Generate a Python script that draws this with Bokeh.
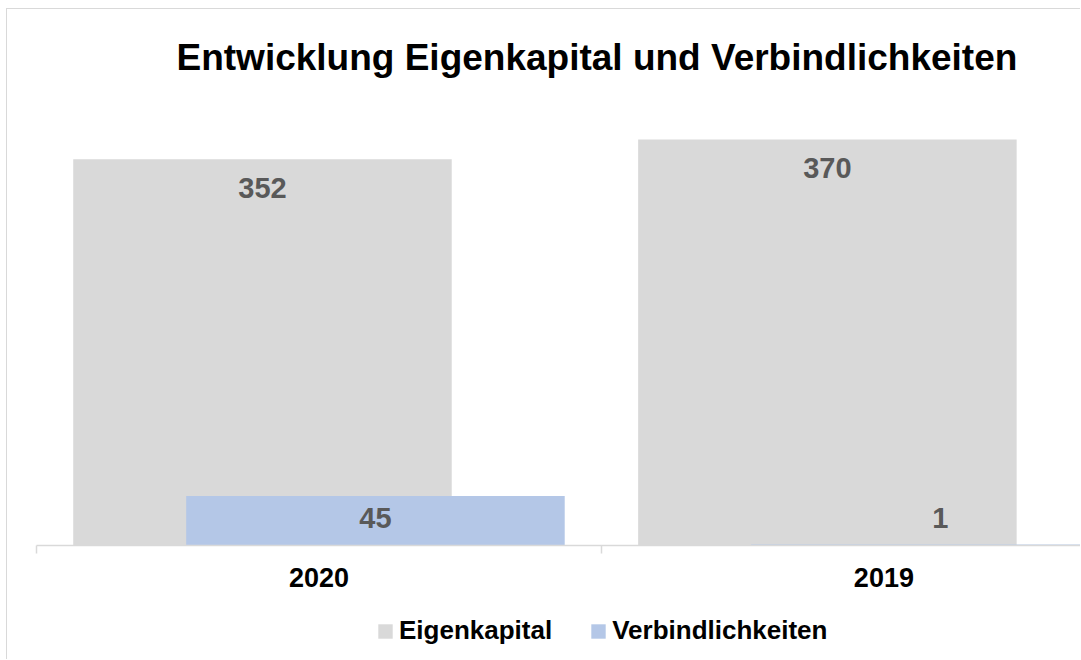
from bokeh.plotting import figure
from bokeh.models import Range1d, FixedTicker, Legend, LegendItem, ColumnDataSource
from bokeh.layouts import column
from bokeh.transform import dodge
from bokeh.core.properties import value
from bokeh.embed import file_html
from bokeh.resources import INLINE

# ---- data ----
title_text = "Entwicklung Eigenkapital und Verbindlichkeiten"
categories = ["2020", "2019"]
eigenkapital = [352, 370]
verbindlichkeiten = [45, 1]
series_names = ["Eigenkapital", "Verbindlichkeiten"]

FONT = "Liberation Sans"
GRAY = "#D9D9D9"
BLUE = "#B4C7E7"
LABEL = "#595959"

pos = [i + 0.5 for i in range(len(categories))]
bounds = [float(i) for i in range(len(categories) + 1)]
src = ColumnDataSource(dict(
    x=pos,
    ek=eigenkapital,
    vb=verbindlichkeiten,
    ek_lbl=[str(v) for v in eigenkapital],
    vb_lbl=[str(v) for v in verbindlichkeiten],
    base=[0] * len(categories),
))

p = figure(width=1073, height=596,
           x_range=Range1d(0, 1.848), y_range=Range1d(0, 400),
           output_backend="svg", toolbar_location=None,
           min_border_left=29, min_border_right=0,
           min_border_top=96, min_border_bottom=60)
p.outline_line_color = None
p.xgrid.visible = False
p.ygrid.visible = False
p.yaxis.visible = False

p.title.text = title_text
p.title.align = "left"
p.title.vertical_align = "top"
p.title.offset = 140
p.title.text_font = FONT
p.title.text_font_size = "37px"
p.title.text_font_style = "bold"
p.title.text_color = "black"
p.title.standoff = 54

r_ek = p.vbar(x=dodge("x", -0.1), top="ek", width=0.67, source=src,
              fill_color=GRAY, line_color=None)
r_vb = p.vbar(x=dodge("x", 0.1), top="vb", width=0.67, source=src,
              fill_color=BLUE, line_color=None)

p.text(x=dodge("x", -0.1), y="ek", text="ek_lbl", source=src,
       text_align="center", text_baseline="middle", y_offset=29,
       text_font=value(FONT), text_font_size="29px", text_font_style="bold",
       text_color=LABEL)
p.text(x=dodge("x", 0.1), y="base", text="vb_lbl", source=src,
       text_align="center", text_baseline="middle", y_offset=-28,
       text_font=value(FONT), text_font_size="29px", text_font_style="bold",
       text_color=LABEL)

ax = p.xaxis[0]
ax.ticker = FixedTicker(ticks=pos, minor_ticks=bounds)
ax.major_label_overrides = dict(zip(pos, categories))
ax.axis_line_color = "#D9D9D9"
ax.axis_line_width = 1.5
ax.major_tick_line_color = None
ax.major_tick_out = 0
ax.major_tick_in = 0
ax.minor_tick_line_color = "#D9D9D9"
ax.minor_tick_line_width = 1.5
ax.minor_tick_out = 8
ax.minor_tick_in = 0
ax.major_label_standoff = 14
ax.major_label_text_font = FONT
ax.major_label_text_font_size = "27px"
ax.major_label_text_font_style = "bold"
ax.major_label_text_color = "black"

# legend strip below the chart (hidden copies of the series supply the swatches)
q = figure(width=1073, height=54, x_range=Range1d(0, 1), y_range=Range1d(0, 1),
           output_backend="svg", toolbar_location=None,
           min_border_left=0, min_border_right=0, min_border_top=0, min_border_bottom=0)
q.axis.visible = False
q.grid.visible = False
q.outline_line_color = None
lg_ek = q.vbar(x="x", top="ek", width=0.1, source=src, fill_color=GRAY, line_color=None)
lg_vb = q.vbar(x="x", top="vb", width=0.1, source=src, fill_color=BLUE, line_color=None)
lg_ek.visible = False
lg_vb.visible = False
legend = Legend(items=[LegendItem(label=series_names[0], renderers=[lg_ek]),
                       LegendItem(label=series_names[1], renderers=[lg_vb])],
                orientation="horizontal", location=(340, 13),
                glyph_width=18, glyph_height=18, label_standoff=5, spacing=37,
                label_text_font=FONT, label_text_font_size="26px",
                label_text_font_style="bold", label_text_color="black",
                border_line_color=None, background_fill_alpha=0,
                padding=0, margin=0)
q.add_layout(legend, "center")

layout = column(p, q, spacing=0)
layout.styles = {"margin-left": "6px", "margin-top": "8px",
                 "border-left": "1.5px solid #D9D9D9", "border-top": "1.5px solid #D9D9D9"}

open("out.html", "w").write(file_html(layout, INLINE))
